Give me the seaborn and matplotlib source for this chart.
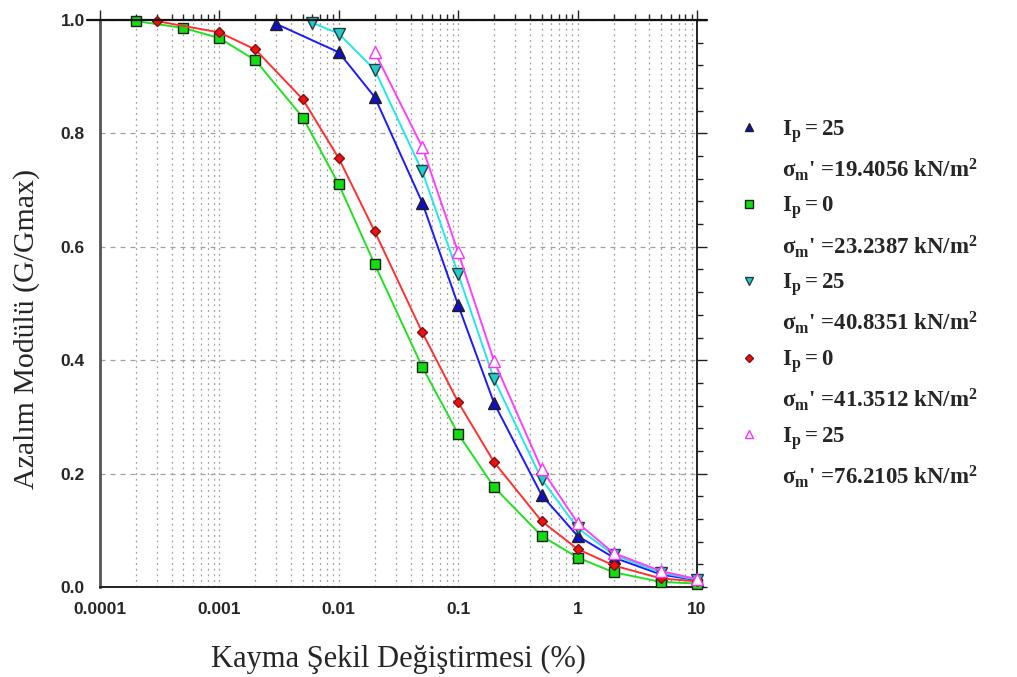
import matplotlib
matplotlib.use("Agg")
import matplotlib.pyplot as plt
import seaborn as sns
import numpy as np
import pandas as pd
from matplotlib.lines import Line2D
from matplotlib.ticker import LogLocator, FixedLocator, MultipleLocator, FixedFormatter

# ---- data ----
x_blue = [0.003, 0.01, 0.02, 0.05, 0.1, 0.2, 0.5, 1, 2, 5, 10]
y_blue = [0.993, 0.943, 0.864, 0.678, 0.497, 0.324, 0.162, 0.090, 0.052, 0.022, 0.012]

x_green = [0.0002, 0.0005, 0.001, 0.002, 0.005, 0.01, 0.02, 0.05, 0.1, 0.2, 0.5, 1, 2, 5, 10]
y_green = [0.998, 0.986, 0.968, 0.929, 0.828, 0.710, 0.569, 0.388, 0.270, 0.176, 0.090, 0.052, 0.026, 0.009, 0.006]

x_cyan = [0.006, 0.01, 0.02, 0.05, 0.1, 0.2, 0.5, 1, 2, 5, 10]
y_cyan = [0.995, 0.976, 0.912, 0.733, 0.552, 0.366, 0.190, 0.104, 0.057, 0.025, 0.013]

x_red = [0.0003, 0.001, 0.002, 0.005, 0.01, 0.02, 0.05, 0.1, 0.2, 0.5, 1, 2, 5, 10]
y_red = [0.998, 0.978, 0.948, 0.860, 0.756, 0.627, 0.449, 0.326, 0.220, 0.116, 0.067, 0.038, 0.015, 0.010]

x_mag = [0.02, 0.05, 0.1, 0.2, 0.5, 1, 2, 5, 10]
y_mag = [0.943, 0.776, 0.590, 0.398, 0.208, 0.113, 0.060, 0.028, 0.014]

labels_ip = ["25", "0", "25", "0", "25"]
labels_sigma = ["19.4056", "23.2387", "40.8351", "41.3512", "76.2105"]

x_ticks = [0.0001, 0.001, 0.01, 0.1, 1, 10]
x_ticklabels = ["0.0001", "0.001", "0.01", "0.1", "1", "10"]
y_ticks = [0.0, 0.2, 0.4, 0.6, 0.8, 1.0]
y_ticklabels = ["0.0", "0.2", "0.4", "0.6", "0.8", "1.0"]

xlabel = "Kayma Şekil Değiştirmesi (%)"
ylabel = "Azalım Modülü (G/Gmax)"

# ---- style ----
sns.set_style("white")
plt.rcParams["font.family"] = ["Liberation Sans", "DejaVu Sans"]
plt.rcParams["mathtext.fontset"] = "custom"
plt.rcParams["mathtext.rm"] = "Liberation Serif:bold"
plt.rcParams["mathtext.it"] = "Liberation Serif:bold"
plt.rcParams["mathtext.bf"] = "Liberation Serif:bold"

fig = plt.figure(figsize=(10.17, 6.77), dpi=100)
ax = fig.add_axes([100/1017, 1-587/677, 597/1017, 567/677])

series = [
    (x_blue, y_blue, "#1a1aff", "^", "#1010c0", "#202020", 8),
    (x_green, y_green, "#22e022", "s", "#11dd11", "#202020", 7.5),
    (x_cyan, y_cyan, "#22e8e8", "v", "#22cccc", "#204040", 8),
    (x_red, y_red, "#ff3030", "D", "#ee1111", "#801010", 5.5),
    (x_mag, y_mag, "#ff40ff", "^", "white", "#ff30ff", 8),
]

for xs, ys, lc, mk, fc, ec, ms in series:
    df = pd.DataFrame({"x": xs, "y": ys})
    sns.lineplot(data=df, x="x", y="y", ax=ax, color=lc, linewidth=1.4,
                 marker=mk, markersize=ms, markerfacecolor=fc,
                 markeredgecolor=ec, markeredgewidth=1.0, zorder=5, clip_on=False)

ax.set_xscale("log")
ax.set_xlim(0.0001, 10)
ax.set_ylim(0, 1.0)

# ticks
ax.xaxis.set_major_locator(FixedLocator(x_ticks))
ax.xaxis.set_major_formatter(FixedFormatter(x_ticklabels))
ax.xaxis.set_minor_locator(LogLocator(base=10, subs=np.arange(2, 10), numticks=50))
ax.yaxis.set_major_locator(FixedLocator(y_ticks))
ax.yaxis.set_major_formatter(FixedFormatter(y_ticklabels))
ax.yaxis.set_minor_locator(MultipleLocator(0.04))

ax.tick_params(axis="both", which="both", direction="out", top=True, right=True,
               color="#222222", width=1.0)
ax.tick_params(axis="both", which="major", length=7)
ax.tick_params(axis="x", which="major", pad=4)
ax.tick_params(axis="y", which="major", pad=4)
ax.tick_params(axis="both", which="minor", length=4)
ax.tick_params(axis="y", which="major", labelright=False)
ax.tick_params(axis="x", which="major", labeltop=False)
for lab in ax.get_xticklabels() + ax.get_yticklabels():
    lab.set_fontweight("bold")
    lab.set_fontsize(12.5)

# grid
ax.grid(False)
ax.xaxis.grid(True, which="both", linestyle=(0, (1.5, 3)), color="#a0a0a0", linewidth=0.9)
ax.yaxis.grid(True, which="major", linestyle=(0, (4, 4)), color="#a0a0a0", linewidth=0.9)
ax.set_axisbelow(True)

for s in ["left", "right", "bottom", "top"]:
    ax.spines[s].set_visible(True)
    ax.spines[s].set_color("#222222")
    ax.spines[s].set_linewidth(1.4)
ax.spines["left"].set_color("#555555")
ax.spines["left"].set_linewidth(2.0)

# extended top line
ax.plot([-0.022, 1.016], [1.0, 1.0], transform=ax.transAxes, color="#111111",
        linewidth=1.6, clip_on=False, zorder=6)

ax.set_xlabel(xlabel, fontfamily="Liberation Serif", fontsize=22, labelpad=20)
ax.set_ylabel(ylabel, fontfamily="Liberation Serif", fontsize=21.5)
ax.yaxis.set_label_coords(-0.100, 0.456)

# legend: marker + first line, blank + second line
handles = []
labels = []
for (xs, ys, lc, mk, fc, ec, ms), ip, sg in zip(series, labels_ip, labels_sigma):
    handles.append(Line2D([], [], linestyle="none", marker=mk, markersize=ms * 0.75,
                          markerfacecolor=fc, markeredgecolor=ec, markeredgewidth=1.0))
    labels.append(r"$\mathrm{I_p = " + ip + "}$")
    handles.append(Line2D([], [], linestyle="none", marker=None))
    labels.append(r"$\mathrm{\sigma_m}$' =" + sg + r" kN/m$^\mathrm{2}$")

leg = fig.legend(handles, labels, loc="upper left", bbox_to_anchor=(738/1017, 1-118/677),
                 frameon=False, handlelength=1.0, handletextpad=0.9, labelspacing=0.51,
                 prop={"family": "Liberation Serif", "weight": "bold", "size": 16.5},
                 borderaxespad=0, borderpad=0)

fig.savefig("out.png", dpi=100)
